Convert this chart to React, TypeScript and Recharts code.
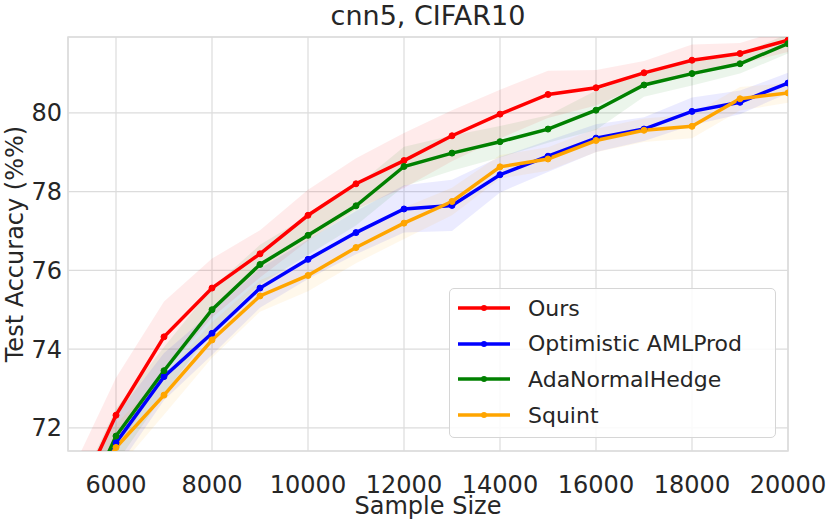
import {
  ComposedChart,
  Line,
  Area,
  XAxis,
  YAxis,
  CartesianGrid,
  ReferenceArea,
} from 'recharts';

const sampleSizes = [5000, 6000, 7000, 8000, 9000, 10000, 11000, 12000, 13000, 14000, 15000, 16000, 17000, 18000, 19000, 20000];
const xTicks = [6000, 8000, 10000, 12000, 14000, 16000, 18000, 20000];
const yTicks = [72, 74, 76, 78, 80];

const ours = [69.7, 72.32, 74.31, 75.55, 76.42, 77.4, 78.2, 78.79, 79.42, 79.97, 80.47, 80.64, 81.02, 81.34, 81.51, 81.85];
const optimistic = [69.2, 71.62, 73.3, 74.4, 75.55, 76.28, 76.96, 77.56, 77.65, 78.43, 78.9, 79.36, 79.59, 80.04, 80.27, 80.76];
const adaNormal = [69.1, 71.79, 73.45, 75.0, 76.15, 76.89, 77.64, 78.64, 78.98, 79.27, 79.59, 80.07, 80.71, 81.0, 81.25, 81.76];
const squint = [69.7, 71.5, 72.83, 74.23, 75.35, 75.87, 76.58, 77.2, 77.75, 78.63, 78.83, 79.3, 79.56, 79.66, 80.36, 80.51];

// half widths of the shaded bands
const oursSpread = [1.0, 0.95, 0.9, 0.75, 0.6, 0.65, 0.65, 0.7, 0.65, 0.62, 0.6, 0.45, 0.3, 0.4, 0.27, 0.3];
const optimisticSpread = [0.8, 0.7, 0.6, 0.55, 0.5, 0.5, 0.55, 0.6, 0.65, 0.45, 0.4, 0.35, 0.3, 0.35, 0.3, 0.26];
const adaNormalSpread = [0.8, 0.7, 0.6, 0.55, 0.5, 0.5, 0.5, 0.5, 0.45, 0.4, 0.35, 0.5, 0.3, 0.3, 0.25, 0.25];
const squintSpread = [0.7, 0.6, 0.5, 0.45, 0.4, 0.4, 0.4, 0.4, 0.35, 0.3, 0.3, 0.3, 0.3, 0.3, 0.3, 0.25];

const series = [
  { key: 'ours', name: 'Ours', color: '#ff0000', values: ours, spread: oursSpread },
  { key: 'optimistic', name: 'Optimistic AMLProd', color: '#0000ff', values: optimistic, spread: optimisticSpread },
  { key: 'ada', name: 'AdaNormalHedge', color: '#008000', values: adaNormal, spread: adaNormalSpread },
  { key: 'squint', name: 'Squint', color: '#ffa500', values: squint, spread: squintSpread },
];

const data = sampleSizes.map((x, i) => {
  const row: Record<string, number | number[]> = { x };
  series.forEach((s) => {
    row[s.key] = s.values[i];
    row[s.key + 'Band'] = [s.values[i] - s.spread[i], s.values[i] + s.spread[i]];
  });
  return row;
});

const FONT = '"DejaVu Sans", sans-serif';
const TEXT = '#262626';
const GRID = '#dcdcdc';
const Y_MIN = 71.41;
const Y_MAX = 81.93;

export default function App() {
  return (
    <div style={{ position: 'fixed', left: 0, top: 0, width: 830, height: 522, background: '#fff', fontFamily: FONT }}>
      <div
        style={{
          position: 'absolute',
          left: 68,
          width: 720,
          top: 2,
          lineHeight: '27px',
          textAlign: 'center',
          fontSize: 27,
          color: TEXT,
        }}
      >
        cnn5, CIFAR10
      </div>
      <ComposedChart width={830} height={522} data={data} margin={{ top: 37, right: 42, left: 8, bottom: 11 }}>
        <CartesianGrid stroke={GRID} strokeWidth={1.2} />
        <ReferenceArea x1={5000} x2={20000} y1={Y_MIN} y2={Y_MAX} fill="none" stroke={GRID} strokeWidth={1.5} />
        <XAxis
          dataKey="x"
          type="number"
          domain={[5000, 20000]}
          ticks={xTicks}
          allowDataOverflow
          axisLine={false}
          tickLine={false}
          tickSize={0}
          tickMargin={25}
          height={60}
          tick={{ fontSize: 24, fill: TEXT, fontFamily: FONT }}
          label={{ value: 'Sample Size', position: 'insideBottom', offset: -3, fontSize: 24, fill: TEXT, fontFamily: FONT }}
        />
        <YAxis
          type="number"
          domain={[Y_MIN, Y_MAX]}
          ticks={yTicks}
          allowDataOverflow
          axisLine={false}
          tickLine={false}
          tickSize={0}
          tickMargin={6}
          width={60}
          tick={{ fontSize: 24, fill: TEXT, fontFamily: FONT }}
          label={(props: any) => {
            const vb = props.viewBox || { x: 8, y: 37, height: 414 };
            const cx = vb.x + 7;
            const cy = vb.y + vb.height / 2;
            return (
              <text
                x={cx}
                y={cy}
                transform={`rotate(-90 ${cx} ${cy})`}
                textAnchor="middle"
                dominantBaseline="central"
                fontSize={24}
                fill={TEXT}
                fontFamily={FONT}
              >
                Test Accuracy (%%)
              </text>
            );
          }}
        />
        {series.map((s) => (
          <Area
            key={s.key + 'Band'}
            type="linear"
            dataKey={s.key + 'Band'}
            stroke="none"
            fill={s.color}
            fillOpacity={0.08}
            isAnimationActive={false}
            activeDot={false}
          />
        ))}
        {series.map((s) => (
          <Line
            key={s.key}
            type="linear"
            dataKey={s.key}
            name={s.name}
            stroke={s.color}
            strokeWidth={3.5}
            dot={{ r: 3, fill: s.color, stroke: s.color, strokeWidth: 1 }}
            activeDot={false}
            isAnimationActive={false}
          />
        ))}
      </ComposedChart>
      <div
        style={{
          position: 'absolute',
          left: 449,
          top: 288,
          width: 325,
          height: 148,
          border: '1px solid #d6d6d6',
          borderRadius: 5,
          background: 'rgba(255,255,255,0.85)',
        }}
      >
        {series.map((s, i) => (
          <div
            key={s.key}
            style={{
              position: 'absolute',
              left: 0,
              top: 19 + i * 35.7 - 18,
              height: 36,
              display: 'flex',
              alignItems: 'center',
            }}
          >
            <svg width={78} height={36} style={{ display: 'block' }}>
              <line x1={8} x2={60} y1={18} y2={18} stroke={s.color} strokeWidth={3.5} />
              <circle cx={34} cy={18} r={3} fill={s.color} />
            </svg>
            <span style={{ fontSize: 22, color: TEXT, whiteSpace: 'nowrap' }}>{s.name}</span>
          </div>
        ))}
      </div>
    </div>
  );
}
